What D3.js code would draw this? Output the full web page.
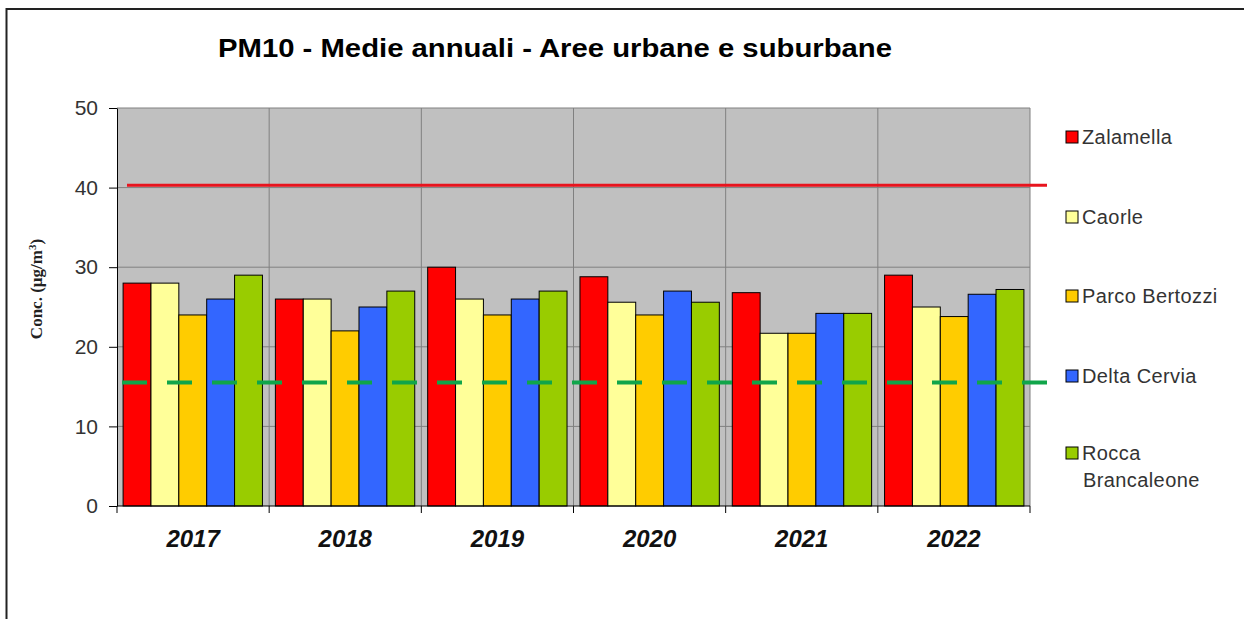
<!DOCTYPE html>
<html><head><meta charset="utf-8">
<script src="https://cdn.jsdelivr.net/npm/d3@7"></script>
<style>body{margin:0;background:#fff}svg{display:block}</style>
</head><body>
<script>
const years = ["2017","2018","2019","2020","2021","2022"];
const stations = ["Zalamella","Caorle","Parco Bertozzi","Delta Cervia","Rocca Brancaleone"];
const zalamella = [28,26,30,28.8,26.8,29.0];
const caorle = [28,26,26,25.6,21.7,25.0];
const parcoBertozzi = [24,22,24,24,21.7,23.8];
const deltaCervia = [26,25,26,27,24.2,26.6];
const roccaBrancaleone = [29,27,27,25.6,24.2,27.2];
const colors = ["#ff0000","#ffff99","#ffcc00","#3366ff","#99cc00"];
const yTicks = [0,10,20,30,40,50];
const limitValue = 40.3;
const guideValue = 15.5;
const seriesValues = [zalamella,caorle,parcoBertozzi,deltaCervia,roccaBrancaleone];

const W=1244,H=619;
const svg=d3.select("body").append("svg").attr("width",W).attr("height",H);
svg.append("rect").attr("x",0).attr("y",0).attr("width",W).attr("height",H).attr("fill","#fff");
// outer frame
svg.append("rect").attr("x",6.5).attr("y",9).attr("width",W+20).attr("height",H+20)
  .attr("fill","none").attr("stroke","#222").attr("stroke-width",2);

const L=117,R=1030,T=108,B=506;
const x=d3.scaleBand().domain(years).range([L,R]).paddingInner(0.085).paddingOuter(0.04);
const xBounds=d3.scaleBand().domain(years).range([L,R]);
const xs=d3.scaleBand().domain(stations).range([0,x.bandwidth()]);
const y=d3.scaleLinear().domain([0,50]).range([B,T]);

svg.append("rect").attr("x",L).attr("y",T).attr("width",R-L).attr("height",B-T).attr("fill","#c0c0c0");
// horizontal grid
svg.append("g").selectAll("line").data(yTicks.filter(d=>d>0)).join("line")
  .attr("x1",L).attr("x2",R).attr("y1",d=>y(d)).attr("y2",d=>y(d))
  .attr("stroke","#808080").attr("stroke-width",1);
// vertical grid at category boundaries
svg.append("g").selectAll("line").data(years.slice(1).concat(["end"])).join("line")
  .attr("x1",d=>d==="end"?R:xBounds(d)).attr("x2",d=>d==="end"?R:xBounds(d))
  .attr("y1",T).attr("y2",B).attr("stroke","#808080").attr("stroke-width",1);

// bars
const bars=[];
years.forEach((yr,i)=>stations.forEach((st,j)=>bars.push({yr,st,j,v:seriesValues[j][i]})));
svg.append("g").selectAll("rect").data(bars).join("rect")
  .attr("x",d=>x(d.yr)+xs(d.st)).attr("width",xs.bandwidth())
  .attr("y",d=>y(d.v)).attr("height",d=>B-y(d.v))
  .attr("fill",d=>colors[d.j]).attr("stroke","#000").attr("stroke-width",1);

// reference lines
svg.append("line").attr("x1",127).attr("x2",1047).attr("y1",y(limitValue)).attr("y2",y(limitValue))
  .attr("stroke","#e8141e").attr("stroke-width",3);
svg.append("line").attr("x1",122).attr("x2",1047).attr("y1",y(guideValue)).attr("y2",y(guideValue))
  .attr("stroke","#10a54a").attr("stroke-width",4).attr("stroke-dasharray","25,20");

// y axis
const ya=svg.append("g").attr("transform",`translate(${L},0)`)
  .call(d3.axisLeft(y).tickValues(yTicks).tickSize(8).tickSizeOuter(0).tickPadding(11));
ya.select(".domain").attr("stroke","#000");
ya.selectAll(".tick line").attr("stroke","#000");
ya.selectAll("text").attr("font-family","Liberation Sans, Arial, sans-serif").attr("font-size",21).attr("fill","#333");

// x axis
const xa=svg.append("g").attr("transform",`translate(0,${B})`);
xa.append("line").attr("x1",L).attr("x2",R).attr("y1",0).attr("y2",0).attr("stroke","#000");
xa.selectAll(".tk").data(years.concat(["end"])).join("line")
  .attr("x1",d=>d==="end"?R:xBounds(d)).attr("x2",d=>d==="end"?R:xBounds(d))
  .attr("y1",0).attr("y2",7).attr("stroke","#000");
xa.selectAll("text").data(years).join("text")
  .attr("x",d=>xBounds(d)+xBounds.bandwidth()/2).attr("y",41)
  .attr("text-anchor","middle").attr("font-family","Liberation Sans, Arial, sans-serif")
  .attr("font-size",24).attr("font-weight","bold").attr("font-style","italic").attr("fill","#111").text(d=>d);

// y title
svg.append("text").attr("transform","translate(42,289) rotate(-90)").attr("text-anchor","middle")
  .attr("font-family","Liberation Serif, Times New Roman, serif").attr("font-weight","bold").attr("font-size",17)
  .attr("fill","#222").html('Conc. (µg/m<tspan dy="-6" font-size="11">3</tspan><tspan dy="6">)</tspan>');

// title
svg.append("text").attr("x",555).attr("y",57).attr("text-anchor","middle")
  .attr("font-family","Liberation Sans, Arial, sans-serif").attr("font-weight","bold").attr("font-size",25)
  .attr("textLength",674).attr("lengthAdjust","spacingAndGlyphs")
  .attr("fill","#000").text("PM10 - Medie annuali - Aree urbane e suburbane");

// legend
const legY=[137,217,296,376,453];
const lg=svg.append("g").selectAll("g").data(stations).join("g")
  .attr("transform",(d,i)=>`translate(1066,${legY[i]})`);
lg.append("rect").attr("x",0).attr("y",-6).attr("width",12).attr("height",12)
  .attr("fill",(d,i)=>colors[i]).attr("stroke","#000").attr("stroke-width",1);
lg.append("text").attr("x",16).attr("y",7).attr("font-family","Liberation Sans, Arial, sans-serif")
  .attr("font-size",20).attr("fill","#333").attr("letter-spacing","0.4")
  .each(function(d){
    const parts=d==="Rocca Brancaleone"?["Rocca","Brancaleone"]:[d];
    d3.select(this).selectAll("tspan").data(parts).join("tspan")
      .attr("x",(p,k)=>k===0?16:17).attr("dy",(p,k)=>k===0?0:27).text(p=>p);
  });
</script>
</body></html>
